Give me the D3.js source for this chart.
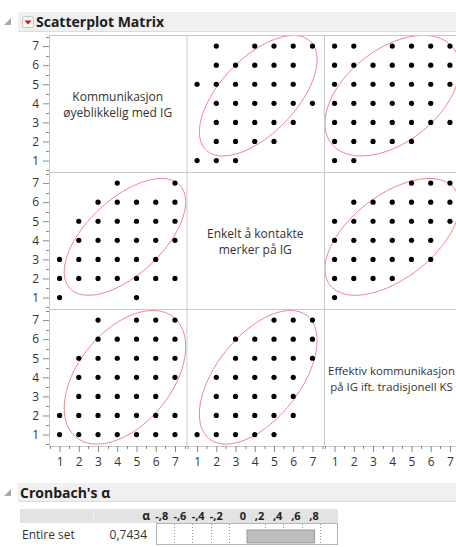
<!DOCTYPE html>
<html>
<head>
<meta charset="utf-8">
<script src="https://cdn.jsdelivr.net/npm/d3@7"></script>
<style>
  html, body { margin: 0; padding: 0; background: #ffffff; }
  svg { display: block; font-family: "Open Sans", "Noto Sans", "DejaVu Sans", sans-serif; }
</style>
</head>
<body>
<svg id="chart" width="456" height="547"></svg>
<script>
// ---- variables (diagonal labels, two lines each) ----
const varLabels = [
  ["Kommunikasjon", "øyeblikkelig med IG"],
  ["Enkelt å kontakte", "merker på IG"],
  ["Effektiv kommunikasjon", "på IG ift. tradisjonell KS"]
];
const axisTicks = [1, 2, 3, 4, 5, 6, 7];
const minorTicks = [0.5, 1.5, 2.5, 3.5, 4.5, 5.5, 6.5, 7.5];

// observed answer combinations, [first variable, second variable]
const pair12 = [
  [1,1],[1,2],[1,3],
  [2,2],[2,3],[2,4],[2,5],
  [3,2],[3,3],[3,4],[3,5],[3,6],
  [4,2],[4,3],[4,4],[4,5],[4,6],[4,7],
  [5,1],[5,2],[5,3],[5,4],[5,5],[5,6],
  [6,2],[6,3],[6,4],[6,5],[6,6],
  [7,2],[7,4],[7,5],[7,6],[7,7]
];
const pair13 = [
  [1,1],[1,2],
  [2,1],[2,2],[2,3],[2,4],[2,5],
  [3,1],[3,2],[3,3],[3,4],[3,5],[3,6],[3,7],
  [4,1],[4,2],[4,3],[4,4],[4,5],[4,6],
  [5,1],[5,2],[5,3],[5,4],[5,5],[5,6],[5,7],
  [6,1],[6,2],[6,3],[6,4],[6,5],[6,6],[6,7],
  [7,1],[7,2],[7,4],[7,5],[7,6],[7,7]
];
const pair23 = [
  [1,1],
  [2,1],[2,2],[2,3],[2,4],
  [3,1],[3,2],[3,3],[3,4],[3,5],[3,6],
  [4,1],[4,2],[4,3],[4,4],[4,5],[4,6],
  [5,1],[5,2],[5,3],[5,4],[5,5],[5,6],[5,7],
  [6,2],[6,3],[6,4],[6,5],[6,6],[6,7],
  [7,5],[7,6],[7,7]
];

// summary statistics behind the 95% density ellipses
const means = [4.4, 4.18, 4.0];
const sds = [1.29, 1.25, 1.43];
const correlations = [[0, 1, 0.6], [0, 2, 0.46], [1, 2, 0.55]];

// Cronbach's alpha table
const alphaRowLabel = "Entire set";
const alphaValue = 0.7434;
const alphaTickValues = [-0.8, -0.6, -0.4, -0.2, 0, 0.2, 0.4, 0.6, 0.8];
const alphaTickLabels = ["-,8", "-,6", "-,4", "-,2", "0", ",2", ",4", ",6", ",8"];
const alphaGrid = [-0.8, -0.6, -0.4, -0.2, 0.2, 0.4, 0.6, 0.8];

// ---------------------------------------------------------------
const svg = d3.select("#chart");
const pairs = { "0-1": pair12, "0-2": pair13, "1-2": pair23 };
const corrOf = (a, b) => {
  const c = correlations.find(d => (d[0] === a && d[1] === b) || (d[0] === b && d[1] === a));
  return c ? c[2] : 1;
};

const pageRight = 455;
const gridLeft = 49, gridTop = 35, cellW = 137.5, cellH = 137;
const n = varLabels.length;
const xScale = d3.scaleLinear().domain([0.45, 7.6]).range([0, cellW]);
const yScale = d3.scaleLinear().domain([0.4, 7.58]).range([cellH, 0]);

const textColor = "#333333";
const borderColor = "#c9c9c9";
const tickColor = "#8a8a8a";
const fontStack = "\"Open Sans\", \"Noto Sans\", sans-serif";

// section header bar with disclosure icon
function sectionHeader(y, h, title, withMenu) {
  svg.append("rect").attr("x", 18).attr("y", y).attr("width", 438).attr("height", h)
    .attr("fill", "#f0f0f0");
  svg.append("line").attr("x1", 18).attr("x2", 456).attr("y1", y + h - 0.5).attr("y2", y + h - 0.5)
    .attr("stroke", "#dcdcdc");
  svg.append("path").attr("d", `M11,${y + 6} L11,${y + 13} L4,${y + 13} Z`).attr("fill", "#a8a8a8");
  let tx = 20;
  if (withMenu) {
    svg.append("rect").attr("x", 22.5).attr("y", y + 4.5).attr("width", 11).attr("height", 11)
      .attr("rx", 2).attr("fill", "#f7f7f7").attr("stroke", "#c4c4c4");
    svg.append("path").attr("d", `M24.5,${y + 8.5} L31.5,${y + 8.5} L28,${y + 12.5} Z`).attr("fill", "#d01818");
    tx = 36;
  }
  svg.append("text").attr("x", tx).attr("y", y + 15).attr("font-size", 14).attr("font-weight", 700)
    .attr("fill", "#1c1c1c").text(title);
}

sectionHeader(12, 20, "Scatterplot Matrix", true);

// clip paths for each cell
const defs = svg.append("defs");
for (let r = 0; r < n; r++) for (let c = 0; c < n; c++) {
  defs.append("clipPath").attr("id", `clip-${r}-${c}`)
    .append("rect").attr("x", 0).attr("y", 0).attr("width", cellW).attr("height", cellH);
}

const ellipseLine = d3.line().curve(d3.curveLinearClosed);
const chi = Math.sqrt(-2 * Math.log(0.05)); // 95% bivariate normal contour

for (let r = 0; r < n; r++) {
  for (let c = 0; c < n; c++) {
    const cx0 = gridLeft + c * cellW, cy0 = gridTop + r * cellH;
    const g = svg.append("g").attr("transform", `translate(${cx0},${cy0})`);
    g.append("rect").attr("width", cellW).attr("height", cellH).attr("fill", "#ffffff");
    if (r === c) {
      // the visible part of the cell (the last column runs past the page edge)
      const visLeft = 4, visRight = Math.min(cellW - 4, pageRight - cx0);
      const labels = varLabels[r].map((line, i) =>
        g.append("text").attr("y", cellH / 2 - 3 + i * 16)
          .attr("text-anchor", "middle").attr("font-size", 12).attr("fill", textColor).text(line));
      const widest = d3.max(labels, t => t.node().getComputedTextLength());
      const room = visRight - visLeft;
      const centre = widest > cellW - 8 || visRight < cellW - 4 ? (visLeft + visRight) / 2 : cellW / 2;
      const size = widest > room ? 12 * room / widest : 12;
      labels.forEach(t => t.attr("x", widest > room || visRight < cellW - 4 ? Math.min(centre, cellW / 2) : cellW / 2)
        .attr("font-size", size));
      continue;
    }
    const a = Math.min(r, c), b = Math.max(r, c);
    const data = pairs[`${a}-${b}`];
    // x shows variable c, y shows variable r
    const pts = data.map(p => (r === a ? { x: p[1], y: p[0] } : { x: p[0], y: p[1] }));
    const inner = g.append("g").attr("clip-path", `url(#clip-${r}-${c})`);

    const rho = corrOf(r, c);
    const mx = means[c], my = means[r], sx = sds[c], sy = sds[r];
    const ring = d3.range(0, 360, 2).map(deg => {
      const t = deg * Math.PI / 180;
      const ex = mx + chi * sx * Math.cos(t);
      const ey = my + chi * sy * (rho * Math.cos(t) + Math.sqrt(1 - rho * rho) * Math.sin(t));
      return [xScale(ex), yScale(ey)];
    });
    inner.append("path").attr("d", ellipseLine(ring)).attr("fill", "none")
      .attr("stroke", "#f0808c").attr("stroke-width", 1);

    inner.selectAll("circle").data(pts).join("circle")
      .attr("cx", d => xScale(d.x)).attr("cy", d => yScale(d.y)).attr("r", 2.6).attr("fill", "#000");
  }
}

// cell borders
for (let i = 0; i <= n; i++) {
  svg.append("line").attr("x1", gridLeft + i * cellW + 0.5).attr("x2", gridLeft + i * cellW + 0.5)
    .attr("y1", gridTop).attr("y2", gridTop + n * cellH).attr("stroke", borderColor);
  svg.append("line").attr("x1", gridLeft).attr("x2", gridLeft + n * cellW)
    .attr("y1", gridTop + i * cellH + 0.5).attr("y2", gridTop + i * cellH + 0.5).attr("stroke", borderColor);
}

// left axes
for (let r = 0; r < n; r++) {
  const g = svg.append("g").attr("transform", `translate(${gridLeft},${gridTop + r * cellH})`);
  g.selectAll("line.minor").data(minorTicks).join("line").attr("class", "minor")
    .attr("x1", -3).attr("x2", 0).attr("y1", d => Math.round(yScale(d)) + 0.5).attr("y2", d => Math.round(yScale(d)) + 0.5)
    .attr("stroke", tickColor);
  const ax = d3.axisLeft(yScale).tickValues(axisTicks).tickSize(6).tickPadding(4).tickFormat(d3.format("d"));
  g.append("g").call(ax).call(s => {
    s.select(".domain").remove();
    s.selectAll(".tick line").attr("stroke", tickColor);
    s.selectAll(".tick text").attr("fill", textColor).attr("font-size", 12).attr("font-family", fontStack);
  });
}

// bottom axes
for (let c = 0; c < n; c++) {
  const g = svg.append("g").attr("transform", `translate(${gridLeft + c * cellW},${gridTop + n * cellH})`);
  g.selectAll("line.minor").data(minorTicks).join("line").attr("class", "minor")
    .attr("y1", 0).attr("y2", 3).attr("x1", d => Math.round(xScale(d)) + 0.5).attr("x2", d => Math.round(xScale(d)) + 0.5)
    .attr("stroke", tickColor);
  const ax = d3.axisBottom(xScale).tickValues(axisTicks).tickSize(6).tickPadding(5).tickFormat(d3.format("d"));
  g.append("g").call(ax).call(s => {
    s.select(".domain").remove();
    s.selectAll(".tick line").attr("stroke", tickColor);
    s.selectAll(".tick text").attr("fill", textColor).attr("font-size", 12).attr("font-family", fontStack);
  });
}

// ---- Cronbach's alpha ----
sectionHeader(483, 19, "Cronbach's α", false);

const tableLeft = 20, labelColRight = 93, plotLeft = 156, plotRight = 338;
const headY = 509, headH = 14, rowY = 523, rowH = 22;
const aScale = d3.scaleLinear().domain([-1, 1]).range([plotLeft, plotRight]);

svg.append("rect").attr("x", tableLeft).attr("y", headY).attr("width", plotRight - tableLeft).attr("height", headH)
  .attr("fill", "#e3e3e3");
svg.append("line").attr("x1", labelColRight + 0.5).attr("x2", labelColRight + 0.5).attr("y1", headY).attr("y2", headY + headH)
  .attr("stroke", "#f2f2f2");
svg.append("text").attr("x", plotLeft - 6).attr("y", headY + 11).attr("text-anchor", "end")
  .attr("font-size", 12).attr("font-weight", 700).attr("fill", "#222").text("α");
// scale labels sit just left of their reference lines
svg.selectAll("text.atick").data(alphaTickValues).join("text").attr("class", "atick")
  .attr("x", d => aScale(d) - (d < 0 ? 6 : 1))
  .attr("y", headY + 11).attr("text-anchor", "end")
  .attr("font-size", 11).attr("font-weight", 700).attr("fill", "#222")
  .text((d, i) => alphaTickLabels[i]);

// plot box with dotted reference lines and the alpha bar
svg.append("rect").attr("x", plotLeft + 0.5).attr("y", rowY + 0.5).attr("width", plotRight - plotLeft - 1).attr("height", rowH - 1)
  .attr("fill", "#ffffff").attr("stroke", "#b5b5b5");
svg.selectAll("line.agrid").data(alphaGrid).join("line").attr("class", "agrid")
  .attr("x1", d => Math.round(aScale(d)) + 0.5).attr("x2", d => Math.round(aScale(d)) + 0.5)
  .attr("y1", rowY + 1).attr("y2", rowY + rowH - 1)
  .attr("stroke", "#9a9a9a").attr("stroke-dasharray", "1,2");
svg.append("rect").attr("x", aScale(0)).attr("y", rowY + 7)
  .attr("width", aScale(alphaValue) - aScale(0)).attr("height", 13)
  .attr("fill", "#bdbdbd").attr("stroke", "#8c8c8c").attr("stroke-width", 0.8);

svg.append("text").attr("x", tableLeft + 2).attr("y", rowY + 16).attr("font-size", 12).attr("fill", textColor)
  .text(alphaRowLabel);
svg.append("text").attr("x", plotLeft - 9).attr("y", rowY + 16).attr("text-anchor", "end").attr("font-size", 12)
  .attr("fill", textColor).text(d3.format(".4f")(alphaValue).replace(".", ","));
</script>
</body>
</html>
